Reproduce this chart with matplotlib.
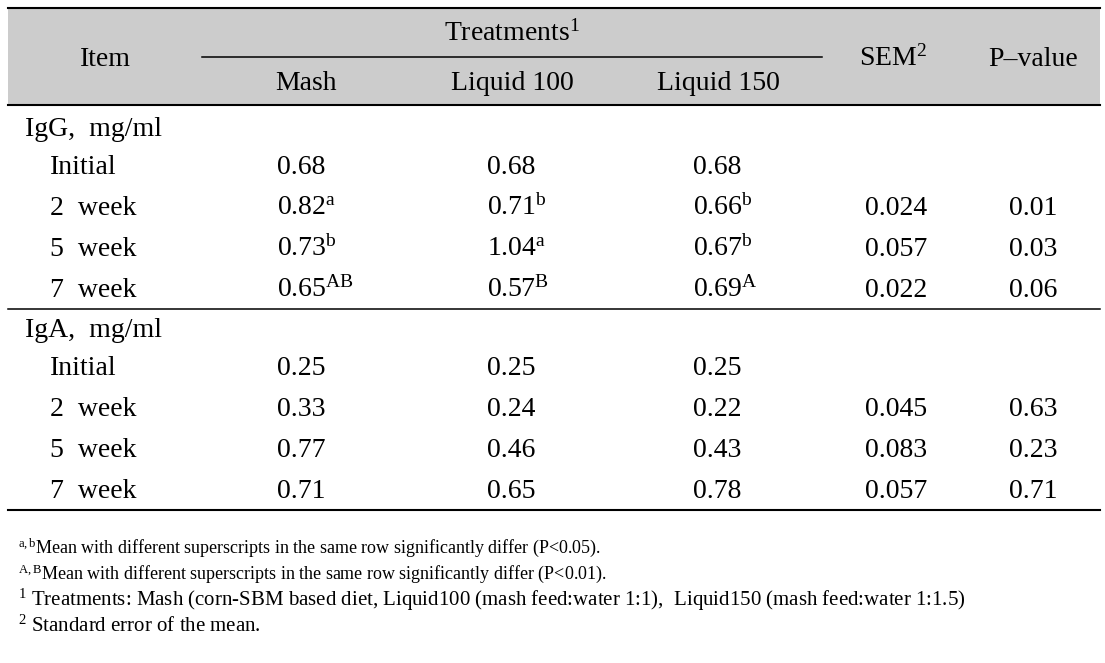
import matplotlib
matplotlib.use("Agg")
import matplotlib.pyplot as plt

plt.rcParams['font.family'] = ['Liberation Serif', 'DejaVu Serif']
plt.rcParams['mathtext.fontset'] = 'custom'
plt.rcParams['mathtext.rm'] = 'Liberation Serif'
plt.rcParams['mathtext.it'] = 'Liberation Serif:italic'

treatments = ["Mash", "Liquid 100", "Liquid 150"]
groups = ["IgG,  mg/ml", "IgA,  mg/ml"]
times = ["Initial", "2  week", "5  week", "7  week"]

igg_mash = ["0.68", "0.82", "0.73", "0.65"]
igg_mash_sup = ["", "a", "b", "AB"]
igg_l100 = ["0.68", "0.71", "1.04", "0.57"]
igg_l100_sup = ["", "b", "a", "B"]
igg_l150 = ["0.68", "0.66", "0.67", "0.69"]
igg_l150_sup = ["", "b", "b", "A"]
igg_sem = ["", "0.024", "0.057", "0.022"]
igg_p = ["", "0.01", "0.03", "0.06"]

iga_mash = ["0.25", "0.33", "0.77", "0.71"]
iga_l100 = ["0.25", "0.24", "0.46", "0.65"]
iga_l150 = ["0.25", "0.22", "0.43", "0.78"]
iga_sem = ["", "0.045", "0.083", "0.057"]
iga_p = ["", "0.63", "0.23", "0.71"]

footnotes = [
    ("a,b", "Mean with different superscripts in the same row significantly differ (P<0.05)."),
    ("A,B", "Mean with different superscripts in the same row significantly differ (P<0.01)."),
    ("1", " Treatments: Mash (corn-SBM based diet, Liquid100 (mash feed:water 1:1),  Liquid150 (mash feed:water 1:1.5)"),
    ("2", " Standard error of the mean."),
]

W, H = 1105, 663
fig = plt.figure(figsize=(W / 100, H / 100), dpi=100)
ax = fig.add_axes([0, 0, 1, 1])
ax.set_xlim(0, W)
ax.set_ylim(H, 0)
ax.axis("off")

FS = 20
col_x = [277, 487, 693, 865, 1009]

# header band and rules
ax.add_patch(plt.Rectangle((8, 8), 1092, 97, color="#cccccc", lw=0, zorder=0))
ax.plot([8, 1100], [8, 8], color="black", lw=1.5)
ax.plot([8, 1100], [105, 105], color="black", lw=1.5)
ax.plot([202, 822], [57, 57], color="black", lw=1.1)
ax.plot([8, 1100], [309, 309], color="black", lw=1.1)
ax.plot([8, 1100], [510, 510], color="black", lw=1.5)

def sup(s):
    return r"$^{\mathrm{" + s + "}}$" if s else ""

ax.text(105, 66, "Item", fontsize=FS, ha="center", va="baseline")
ax.text(512, 41, "Treatments" + sup("1"), fontsize=FS, ha="center", va="baseline")
for tx, t in zip([306, 512, 718], treatments):
    ax.text(tx, 90, t, fontsize=FS, ha="center", va="baseline")
ax.text(893, 66, "SEM" + sup("2"), fontsize=FS, ha="center", va="baseline")
ax.text(1033, 66, "P\u2013value", fontsize=FS, ha="center", va="baseline")

row_gap = [0, 38, 79, 120, 161]

def block(y0, title, cols):
    ax.text(25, y0 + row_gap[0], title, fontsize=FS, ha="left", va="baseline")
    for i, t in enumerate(times):
        y = y0 + row_gap[i + 1]
        ax.text(50, y, t, fontsize=FS, ha="left", va="baseline")
        for x, c in zip(col_x, cols):
            if c[i]:
                ax.text(x, y, c[i], fontsize=FS, ha="left", va="baseline")

block(136, groups[0], [
    [v + sup(s) for v, s in zip(igg_mash, igg_mash_sup)],
    [v + sup(s) for v, s in zip(igg_l100, igg_l100_sup)],
    [v + sup(s) for v, s in zip(igg_l150, igg_l150_sup)],
    igg_sem, igg_p])
block(337, groups[1], [iga_mash, iga_l100, iga_l150, iga_sem, iga_p])

foot_fs = [13, 13, 15, 15]
for i, (s, txt) in enumerate(footnotes):
    ax.text(18, 553 + i * 26.3, sup(s) + txt, fontsize=foot_fs[i], ha="left", va="baseline")

fig.savefig("out.png", dpi=100, facecolor="white")
